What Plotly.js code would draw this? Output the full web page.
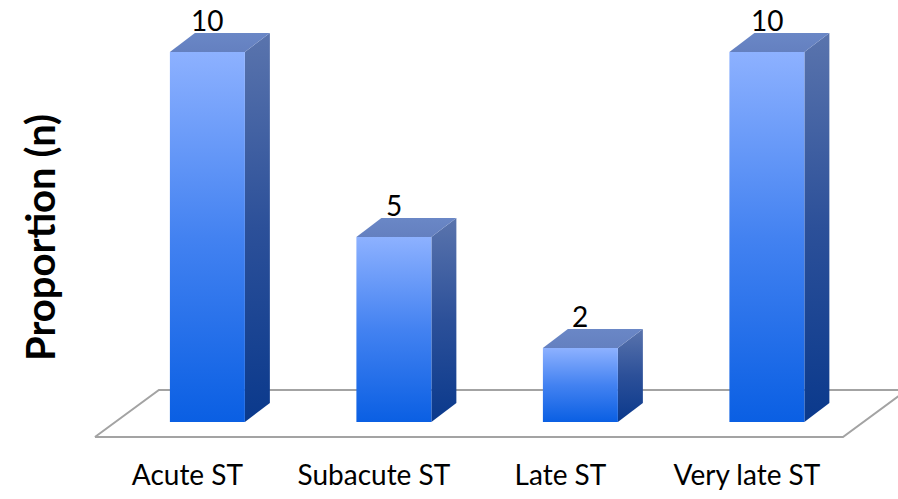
<!DOCTYPE html>
<html>
<head>
<meta charset="utf-8">
<script src="https://cdn.plot.ly/plotly-3.0.1.min.js"></script>
<style>
  html, body { margin: 0; padding: 0; background: #ffffff; }
  #chart { width: 898px; height: 499px; }
</style>
</head>
<body>
<div id="chart"></div>
<script>
// Stent thrombosis cases by timing category
const categories = ['Acute ST', 'Subacute ST', 'Late ST', 'Very late ST'];
const counts = [10, 5, 2, 10];
const axisTitle = 'Proportion (n)';

// Pseudo-3D column geometry (x in category units, y in count units)
const FRONT_LEFT = -0.094;   // front face left edge relative to category
const FRONT_RIGHT = 0.308;   // front face right edge relative to category
const DEPTH_X = 0.134;       // receding offset along x
const DEPTH_Y = 0.514;       // receding offset along y

// Floor plane spanning all categories
const FLOOR_PAD_LEFT = 0.496;
const FLOOR_PAD_RIGHT = 0.515;
const FLOOR_FRONT = -0.405;
const FLOOR_BACK = 0.865;
const FLOOR_SHIFT = 0.343;

const traces = [];
const n = categories.length;

// floor
traces.push({
  type: 'scatter', mode: 'lines',
  x: [-FLOOR_PAD_LEFT, n - 1 + FLOOR_PAD_RIGHT, n - 1 + FLOOR_PAD_RIGHT + FLOOR_SHIFT, -FLOOR_PAD_LEFT + FLOOR_SHIFT, -FLOOR_PAD_LEFT],
  y: [FLOOR_FRONT, FLOOR_FRONT, FLOOR_BACK, FLOOR_BACK, FLOOR_FRONT],
  fill: 'toself', fillcolor: '#ffffff',
  line: { color: '#a3a3a3', width: 2 },
  hoverinfo: 'skip', showlegend: false
});

function face(xs, ys, scale) {
  return {
    type: 'scatter', mode: 'lines',
    x: xs.concat([xs[0]]), y: ys.concat([ys[0]]),
    fill: 'toself',
    fillgradient: { type: 'vertical', colorscale: scale },
    line: { width: 0, color: 'rgba(0,0,0,0)' },
    hoverinfo: 'skip', showlegend: false
  };
}

const frontScale = [[0, '#0a5fe3'], [0.5, '#4382f1'], [1, '#8db1ff']];
const sideScale = [[0, '#0a398c'], [0.5, '#2c5099'], [1, '#5a74ad']];
const topScale = [[0, '#6480c0'], [1, '#6a87c6']];

counts.forEach((v, i) => {
  const x0 = i + FRONT_LEFT, x1 = i + FRONT_RIGHT;
  // right side face
  traces.push(face(
    [x1, x1 + DEPTH_X, x1 + DEPTH_X, x1],
    [0, DEPTH_Y, v + DEPTH_Y, v], sideScale));
  // front face
  traces.push(face(
    [x0, x1, x1, x0],
    [0, 0, v, v], frontScale));
  // top face
  traces.push(face(
    [x0, x1, x1 + DEPTH_X, x0 + DEPTH_X],
    [v, v, v + DEPTH_Y, v + DEPTH_Y], topScale));
});

// value labels sitting on the back edge of each column top
const valueLabels = counts.map((v, i) => ({
  text: String(v),
  xref: 'x', yref: 'y',
  x: i + (FRONT_LEFT + FRONT_RIGHT) / 2,
  y: v + DEPTH_Y,
  xanchor: 'center', yanchor: 'bottom',
  yshift: -5, borderpad: 0,
  showarrow: false,
  font: { family: 'Lato, sans-serif', size: 28, color: '#000000' }
}));

const layout = {
  width: 898, height: 499,
  margin: { l: 0, r: 0, t: 0, b: 59 },
  paper_bgcolor: '#ffffff', plot_bgcolor: 'rgba(0,0,0,0)',
  font: { family: 'Lato, sans-serif', color: '#000000' },
  xaxis: {
    range: [-1.005, 3.81],
    tickvals: categories.map((c, i) => i),
    ticktext: categories,
    tickfont: { family: 'Lato, sans-serif', size: 28, color: '#000000' },
    ticklabelstandoff: 16,
    showgrid: false, zeroline: false, showline: false, ticks: '',
    fixedrange: true
  },
  yaxis: {
    range: [-0.486, 11.405],
    visible: false, fixedrange: true
  },
  annotations: valueLabels.concat([{
    text: axisTitle,
    xref: 'paper', yref: 'paper',
    x: 40 / 898, y: 1 - 238 / 440,
    xanchor: 'center', yanchor: 'middle',
    textangle: -90, showarrow: false,
    font: { family: 'Lato, sans-serif', size: 40, color: '#000000', weight: 'bold' }
  }])
};

Plotly.newPlot('chart', traces, layout, { displayModeBar: false, staticPlot: true });
</script>
</body>
</html>
